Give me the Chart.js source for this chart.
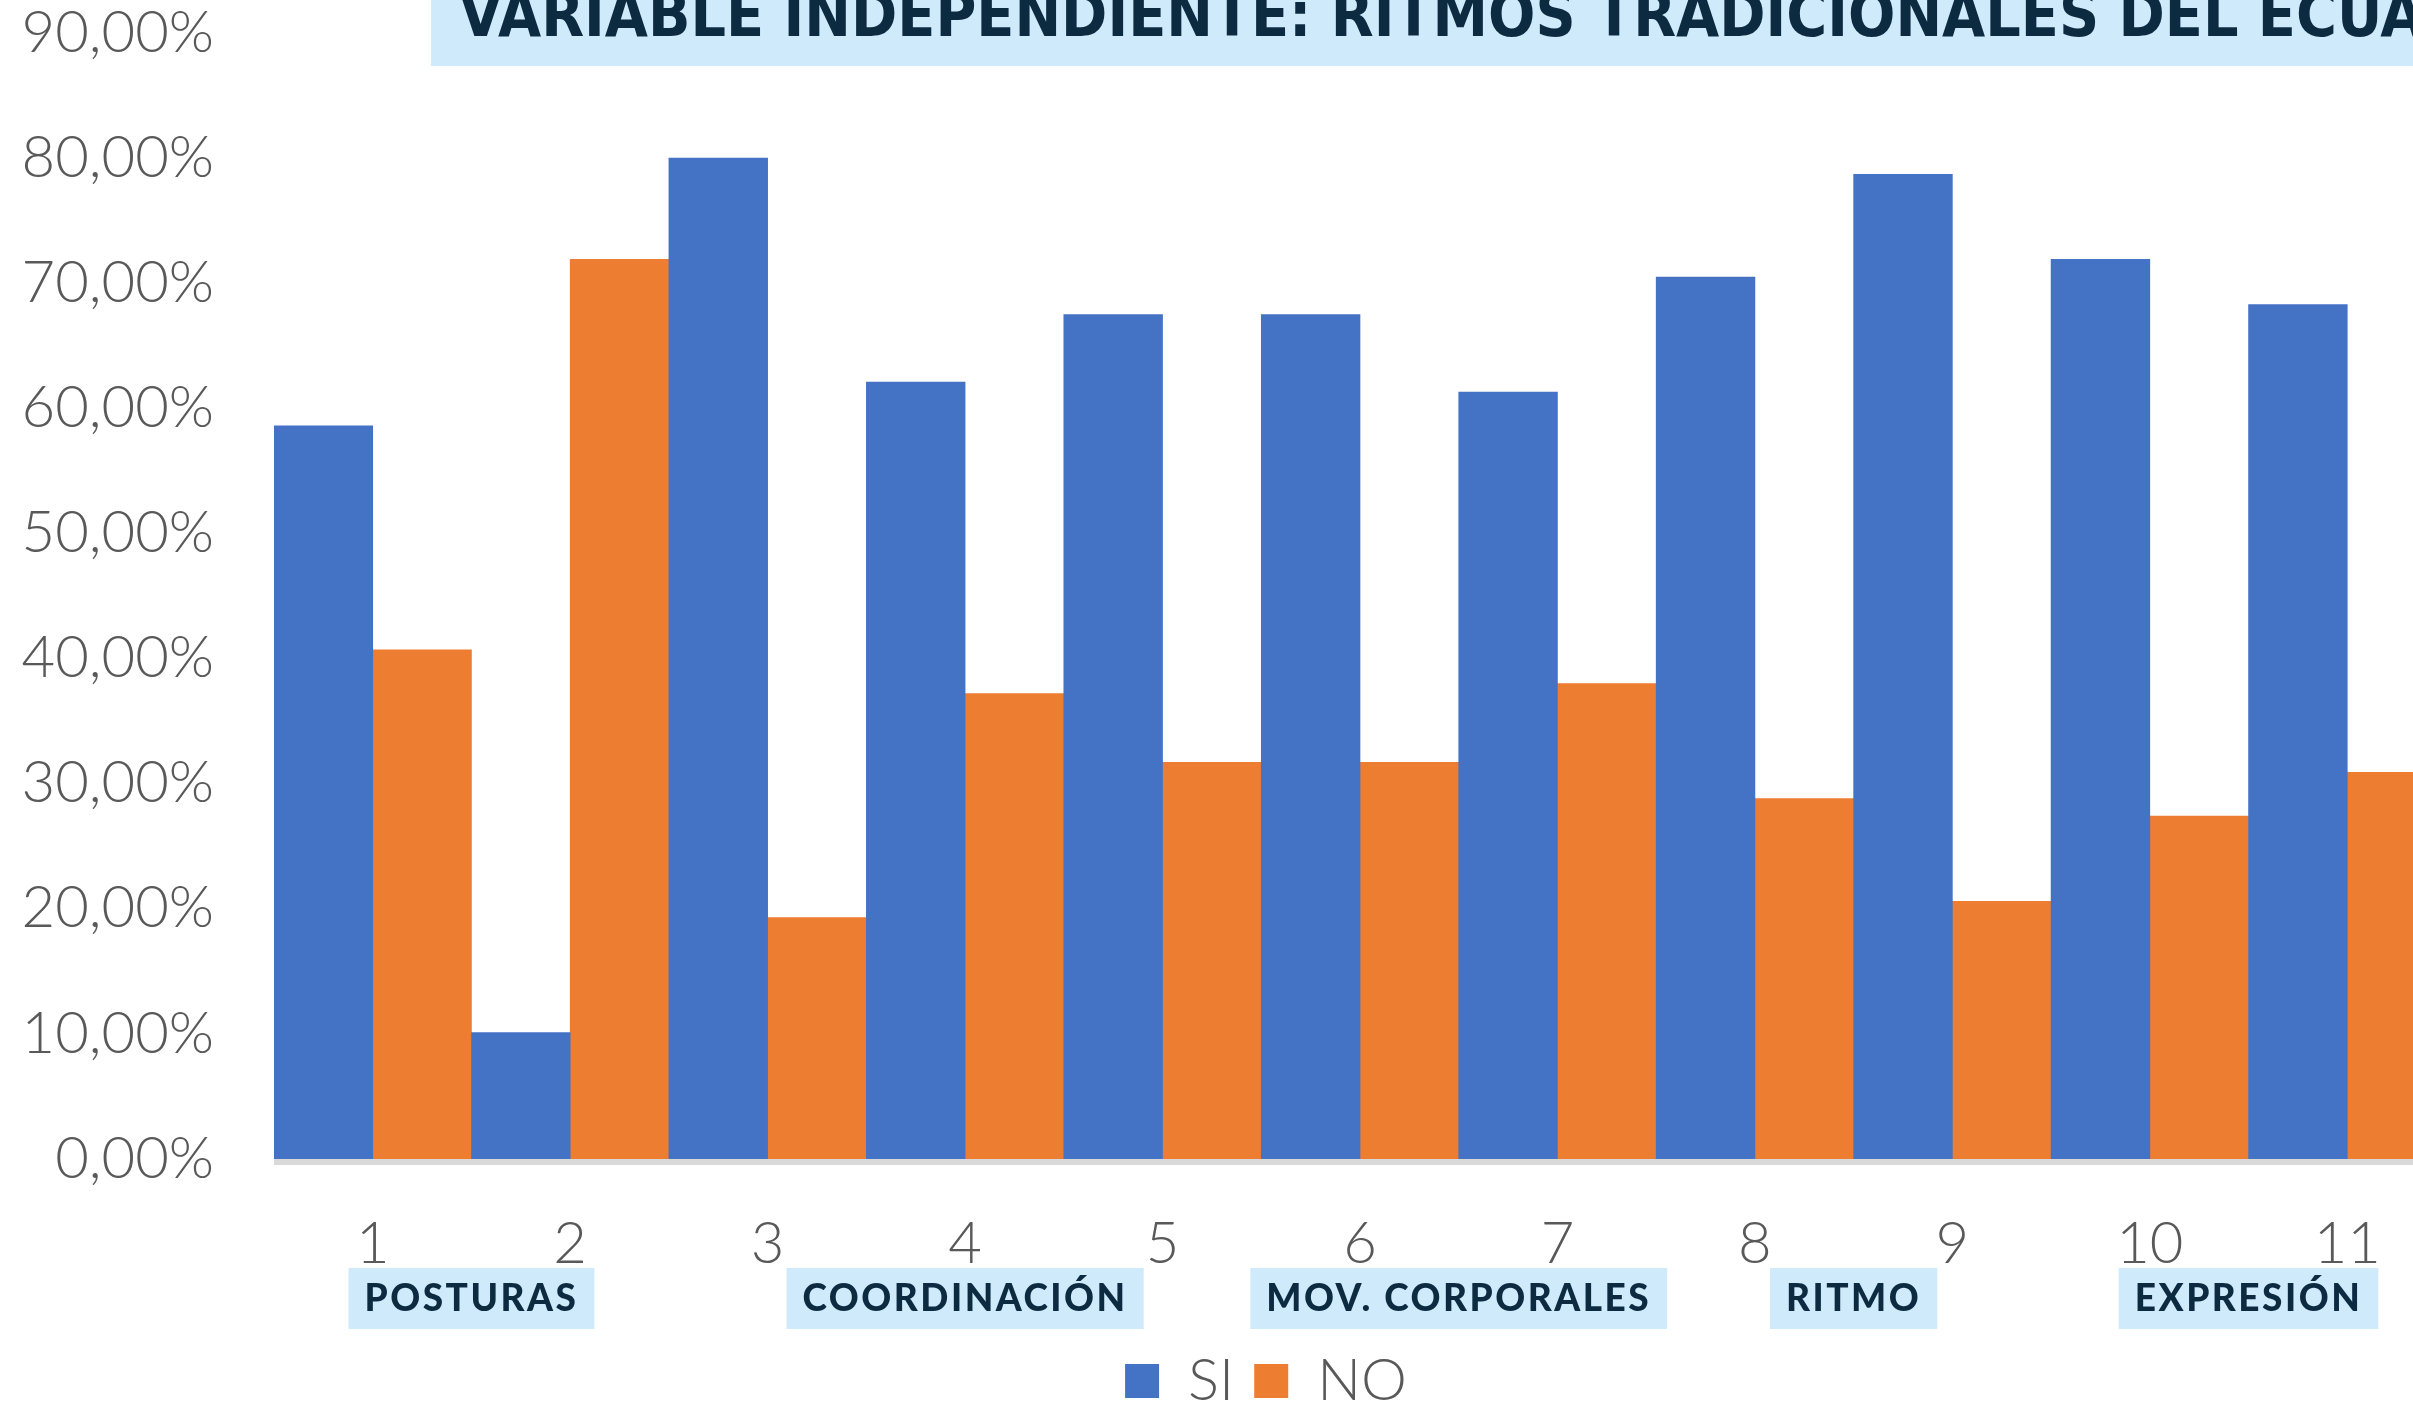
<!DOCTYPE html>
<html>
<head>
<meta charset="utf-8">
<script src="https://cdn.jsdelivr.net/npm/chart.js@4.4.0/dist/chart.umd.min.js"></script>
<style>
  html, body { margin: 0; padding: 0; background: #fff; overflow: hidden; }
  #wrap { position: relative; width: 2540px; height: 1420px; }
</style>
</head>
<body>
<div id="wrap"><canvas id="ritmos" width="2540" height="1420"></canvas></div>
<script>
// datos (porcentajes)
const categories = ['1', '2', '3', '4', '5', '6', '7', '8', '9', '10', '11'];
const siValues = [58.6, 10.1, 80.0, 62.1, 67.5, 67.5, 61.3, 70.5, 78.7, 71.9, 68.3];
const noValues = [40.7, 71.9, 19.3, 37.2, 31.7, 31.7, 38.0, 28.8, 20.6, 27.4, 30.9];
const yMax = 90;
const yStep = 10;

// grupos de preguntas debajo del eje
const groupNames = ['POSTURAS', 'COORDINACIÓN', 'MOV. CORPORALES', 'RITMO', 'EXPRESIÓN'];
const groupFrom = [0, 2, 5, 7, 9];
const groupTo = [1, 4, 6, 8, 10];

const chartTitle = 'VARIABLE INDEPENDIENTE: RITMOS TRADICIONALES DEL ECUADOR';

const boxFill = 'rgb(207, 234, 251)';
const boxText = '#0c2a40';
const tickFont = { family: 'Lato', size: 58, weight: '300' };

function formatPct(value) {
    return value.toFixed(2).replace('.', ',') + '%';
}

const decorations = {
    id: 'decorations',
    afterDatasetsDraw(chart) {
        const ctx = chart.ctx;
        const area = chart.chartArea;
        ctx.save();
        ctx.fillStyle = '#d9d9d9';
        ctx.fillRect(area.left, area.bottom, chart.width - area.left, 6);
        ctx.restore();
    },
    afterDraw(chart) {
        const ctx = chart.ctx;
        const xScale = chart.scales.x;
        const area = chart.chartArea;
        ctx.save();

        // etiquetas de grupo
        ctx.font = '900 37px Lato';
        ctx.letterSpacing = '2.5px';
        ctx.textAlign = 'center';
        ctx.textBaseline = 'middle';
        groupNames.forEach((name, i) => {
            const cx = (xScale.getPixelForValue(groupFrom[i]) + xScale.getPixelForValue(groupTo[i])) / 2;
            const w = ctx.measureText(name).width + 32;
            ctx.fillStyle = boxFill;
            ctx.fillRect(cx - w / 2, area.bottom + 109, w, 61);
            ctx.fillStyle = boxText;
            ctx.fillText(name, cx, area.bottom + 140);
        });

        // titulo (cortado arriba como en la imagen)
        ctx.fillStyle = boxFill;
        ctx.fillRect(431, 0, chart.width - 431, 66);
        ctx.letterSpacing = '0px';
        ctx.fontStretch = 'condensed';
        ctx.font = 'bold 62px "DejaVu Sans Condensed", "DejaVu Sans"';
        ctx.textAlign = 'left';
        ctx.textBaseline = 'alphabetic';
        ctx.fillStyle = boxText;
        ctx.fillText(chartTitle, 459, 36);
        ctx.restore();
    }
};

const data = {
    labels: categories,
    datasets: [{
        label: 'SI',
        data: siValues,
        backgroundColor: '#4472c4',
        borderWidth: 0,
        barPercentage: 1,
        categoryPercentage: 1
    }, {
        label: 'NO',
        data: noValues,
        backgroundColor: '#ed7d31',
        borderWidth: 0,
        barPercentage: 1,
        categoryPercentage: 1
    }]
};

const configChart = {
    type: 'bar',
    data: data,
    options: {
        responsive: false,
        animation: false,
        devicePixelRatio: 1,
        layout: {
            padding: { top: 33, left: 20, right: 28, bottom: 0 }
        },
        scales: {
            x: {
                grid: { display: false, drawTicks: false },
                border: { display: false },
                ticks: { font: tickFont, color: '#595959', padding: 50 },
                afterFit: (scale) => { scale.height = 173; }
            },
            y: {
                min: 0,
                max: yMax,
                grid: { display: false, drawTicks: false },
                border: { display: false },
                ticks: {
                    stepSize: yStep,
                    font: tickFont,
                    color: '#595959',
                    padding: 60,
                    callback: (value) => formatPct(value)
                },
                afterFit: (scale) => {
                    scale.width = 254;
                    scale.paddingTop = 0;
                    scale.paddingBottom = 0;
                }
            },
            // eje vacio a la derecha, solo para centrar la leyenda como en el original
            yRight: {
                position: 'right',
                min: 0,
                max: yMax,
                grid: { display: false, drawTicks: false },
                border: { display: false },
                ticks: { display: false },
                afterFit: (scale) => {
                    scale.width = 66;
                    scale.paddingTop = 0;
                    scale.paddingBottom = 0;
                }
            }
        },
        plugins: {
            legend: {
                position: 'bottom',
                labels: {
                    font: tickFont,
                    color: '#595959',
                    boxWidth: 34,
                    boxHeight: 34,
                    padding: 20
                }
            },
            tooltip: { enabled: false }
        }
    },
    plugins: [decorations]
};

let chart = new Chart(document.getElementById('ritmos'), configChart);
</script>
</body>
</html>
